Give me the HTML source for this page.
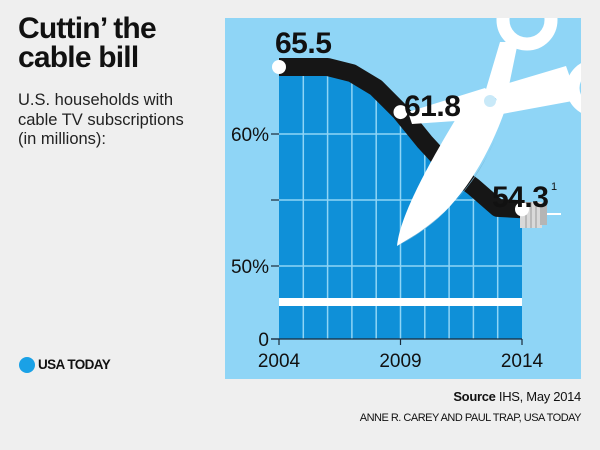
<!DOCTYPE html>
<html><head><meta charset="utf-8">
<style>
html,body{margin:0;padding:0;background:#efefef;}
body{width:600px;height:450px;position:relative;overflow:hidden;font-family:"Liberation Sans",sans-serif;color:#111;}
.t{position:absolute;}
</style></head>
<body>
<div class="t" style="left:18px;top:14px;font-size:30px;font-weight:bold;line-height:29px;letter-spacing:-0.8px;">Cuttin’ the<br>cable bill</div>
<div class="t" style="left:18px;top:91px;font-size:16.5px;line-height:19.5px;color:#222;">U.S. households with<br>cable TV subscriptions<br>(in millions):</div>
<div class="t" style="left:19px;top:357px;width:16px;height:16px;border-radius:50%;background:#1aa1e6;"></div>
<div class="t" style="left:38px;top:357px;font-size:13.5px;font-weight:bold;letter-spacing:-0.6px;">USA TODAY</div>
<div class="t" style="right:19px;top:389px;font-size:13px;letter-spacing:-0.3px;"><b>Source</b> IHS, May 2014</div>
<div class="t" style="right:19px;top:412px;font-size:11px;letter-spacing:-0.5px;">ANNE R. CAREY AND PAUL TRAP, USA TODAY</div>

<svg id="chart" width="600" height="450" style="position:absolute;left:0;top:0;">
<defs>
<clipPath id="cp"><rect x="225" y="18" width="356" height="361"/></clipPath>
<clipPath id="areaclip"><path id="areaclippath" d=""/></clipPath>
</defs>
<rect x="225" y="18" width="356" height="361" fill="#8fd5f6"/>
<g id="plot"></g>
</svg>
<script>
const years = [2004,2005,2006,2007,2008,2009,2010,2011,2012,2013,2014];
const values = [65.5,65.5,65.5,65.0,63.8,61.8,59.4,57.4,56.0,54.4,54.3];
const labelYears = [2004,2009,2014];
const labelValues = ["65.5","61.8","54.3"];
const yTicks = [0,50,55,60];
const yTickLabels = ["0","50%","","60%"];

const NS="http://www.w3.org/2000/svg";
const svg=document.getElementById('chart');
const g=document.getElementById('plot');
function x(yr){return 279+(yr-2004)*(522-279)/10;}
function y(v){
  if(v<=0) return 339;
  if(v<=50) return 339-(v/50)*(339-266);
  if(v<=60) return 266-(v-50)*13.2;
  return 134-(v-60)*(134-67)/5.5;
}
function mk(tag,attrs,parent){const e=document.createElementNS(NS,tag);for(const k in attrs)e.setAttribute(k,attrs[k]);(parent||g).appendChild(e);return e;}

// area
let d='M'+x(years[0])+','+y(0);
years.forEach((yr,i)=>{d+=' L'+x(yr)+','+(y(values[i])+8);});
d+=' L'+x(years[years.length-1])+','+y(0)+' Z';
document.getElementById('areaclippath').setAttribute('d',d);
let e=mk('path',{d:d,fill:'#0f90d8'});


const gridG=mk('g',{'clip-path':'url(#areaclip)'});


years.forEach(yr=>{if(yr>2004&&yr<2014){let l=mk('line',{x1:x(yr),x2:x(yr),y1:y(0),y2:40,stroke:'#8fd5f6','stroke-width':1.5},gridG);

}});
yTicks.forEach((t,i)=>{
  let yy=y(t);
  if(t>0){let l=mk('line',{x1:x(2004),x2:x(2014),y1:yy,y2:yy,stroke:'#8fd5f6','stroke-width':1.5},gridG);
  
  }
  let tk=mk('line',{x1:271,x2:x(2004),y1:yy,y2:yy,stroke:'#1a2a3a','stroke-width':1.2});
  
  
  if(yTickLabels[i]){let tx=mk('text',{x:269,y:yy+7,'text-anchor':'end','font-size':19,fill:'#111'});tx.textContent=yTickLabels[i];
  
  }
});
let br=mk('rect',{x:x(2004),y:298,width:x(2014)-x(2004),height:8,fill:'#ffffff'});


let ax=mk('line',{x1:271,x2:x(2014),y1:y(0),y2:y(0),stroke:'#1a2a3a','stroke-width':1.2});


labelYears.forEach(yr=>{
  let tk=mk('line',{x1:x(yr),x2:x(yr),y1:y(0),y2:y(0)+6,stroke:'#1a2a3a','stroke-width':1.2});
  
  
  let tx=mk('text',{x:x(yr),y:367,'text-anchor':'middle','font-size':19,fill:'#111'});tx.textContent=yr;
  
  
});
let pts=years.map((yr,i)=>x(yr)+','+y(values[i])).join(' ');
let ln=mk('polyline',{points:pts,fill:'none',stroke:'#161616','stroke-width':18,'stroke-linejoin':'round'});



// scissors
let sc=document.createElementNS(NS,'g');


sc.setAttribute('clip-path','url(#cp)');
sc.innerHTML=
'<circle cx="527" cy="20" r="24" fill="none" stroke="#fff" stroke-width="13"/>'+
'<circle cx="595" cy="88" r="22" fill="none" stroke="#fff" stroke-width="13"/>'+
'<path fill="#fff" d="M500,42 L518,42 L506,100 L484,96 Z"/>'+
'<path fill="#fff" d="M492,88 L566,66 L578,100 L502,114 Z"/>'+
'<path fill="#fff" d="M408,112 L485,88 L500,104 L470,120 L412,124 Z"/>'+
'<path fill="#fff" d="M397,246 C400,215 430,160 470,96 L507,104 C492,150 462,205 420,232 Z"/>'+
'<path fill="#7ab8d8" d="M397,246 C430,230 470,195 495,140 L490,150 C470,195 430,228 397,246 Z"/>'+
'<circle cx="490" cy="101" r="6" fill="#c9e9f8"/>';
svg.appendChild(sc);
let cn=document.createElementNS(NS,'g');


cn.innerHTML='<line x1="540" y1="214" x2="561" y2="214" stroke="#fff" stroke-width="2"/>'+
'<rect x="520" y="202" width="22" height="26" fill="#d9d9d9"/>'+
'<rect x="540" y="205" width="7" height="20" fill="#b5b5b5"/>'+
'<line x1="526" y1="202" x2="526" y2="228" stroke="#999"/><line x1="531" y1="202" x2="531" y2="228" stroke="#999"/><line x1="536" y1="202" x2="536" y2="228" stroke="#999"/>';
svg.appendChild(cn);

const lbl=[[275,53],[404,116],[492,207]];
labelYears.forEach((yr,i)=>{
  const idx=years.indexOf(yr);
  let c=document.createElementNS(NS,'circle');
  c.setAttribute('cx',x(yr));c.setAttribute('cy',y(values[idx]));c.setAttribute('r',7);c.setAttribute('fill','#fff');
  
  
  svg.appendChild(c);
  let t=document.createElementNS(NS,'text');
  t.setAttribute('x',lbl[i][0]);t.setAttribute('y',lbl[i][1]);
  t.setAttribute('font-size',30);t.setAttribute('font-weight','bold');t.setAttribute('fill','#111');
  t.setAttribute('letter-spacing','-0.5');
  t.textContent=labelValues[i];
  
  
  svg.appendChild(t);
});
let fn=document.createElementNS(NS,'text');
fn.setAttribute('x',551);fn.setAttribute('y',190);fn.setAttribute('font-size',11);fn.setAttribute('fill','#111');
fn.textContent='1';


svg.appendChild(fn);
</script>
</body></html>
